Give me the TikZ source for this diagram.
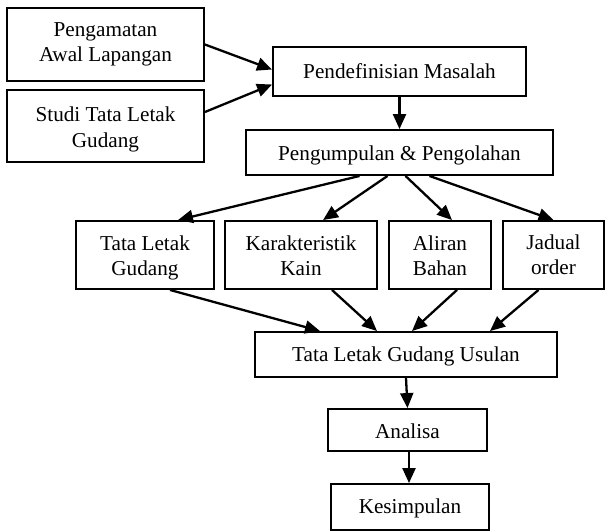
\documentclass[tikz,border=0pt]{standalone}
\usepackage{fontspec}
\setmainfont{Liberation Serif}
\usetikzlibrary{arrows.meta,calc}
\newcommand{\lowone}[2]{\raisebox{-#1}[\height][\depth]{#2}}
\newcommand{\lowtwo}[2]{\raisebox{-#1}[\height][\depth]{\begin{tabular}{@{}c@{}}#2\end{tabular}}}
\tikzset{
  box/.style={draw, line width=1.9pt, rectangle, align=center, inner sep=0pt,
    font=\fontsize{21.2}{25.5}\selectfont},
  arr/.style={line width=2.3pt, -{Triangle[length=15pt,width=13pt]}}
}
\begin{document}
\begin{tikzpicture}[x=1pt,y=-1pt]
\useasboundingbox (0,0) rectangle (605,531);
\node[box, minimum width=197pt, minimum height=73pt] (A) at (105.5,44.5) {Pengamatan\\Awal Lapangan};
\node[box, minimum width=197pt, minimum height=72pt] (B) at (105.5,126) {\lowtwo{3.5pt}{Studi Tata Letak\\Gudang}};
\node[box, minimum width=253pt, minimum height=49pt] (C) at (399.5,71.5) {Pendefinisian Masalah};
\node[box, minimum width=307pt, minimum height=45pt] (K) at (399.5,152.5) {\lowone{3pt}{Pengumpulan \& Pengolahan}};
\node[box, minimum width=138pt, minimum height=68pt] (D) at (145,255) {\lowtwo{3pt}{Tata Letak\\Gudang}};
\node[box, minimum width=152pt, minimum height=68pt] (E) at (301,255) {\lowtwo{3pt}{Karakteristik\\Kain}};
\node[box, minimum width=102pt, minimum height=68pt] (F) at (440,255) {\lowtwo{3pt}{Aliran\\Bahan}};
\node[box, minimum width=101pt, minimum height=68pt] (G) at (553.5,255) {\lowtwo{2pt}{Jadual\\order}};
\node[box, minimum width=302pt, minimum height=45pt] (H) at (406,354.5) {\lowone{2pt}{Tata Letak Gudang Usulan}};
\node[box, minimum width=159pt, minimum height=42pt] (I) at (407.5,430) {\lowone{1.5pt}{Analisa}};
\node[box, minimum width=158pt, minimum height=46pt] (J) at (410,507) {\lowone{1.5pt}{Kesimpulan}};
\draw[arr] (A.east) -- ($(C.west)+(0,-2)$);
\draw[arr] ($(B.east)+(0,-14)$) -- ($(C.west)+(0,13)$);
\draw[arr] (C.south) -- (K.north);
\draw[arr] ($(K.south)+(-40,0)$) -- ($(D.north)+(33,0)$);
\draw[arr] ($(K.south)+(-12,0)$) -- ($(E.north)+(22,0)$);
\draw[arr] ($(K.south)+(6,0)$) -- ($(F.north)+(12,0)$);
\draw[arr] ($(K.south)+(30,0)$) -- (G.north);
\draw[arr] ($(D.south)+(25,0)$) -- ($(H.north)+(-86,0)$);
\draw[arr] ($(E.south)+(31,0)$) -- ($(H.north)+(-29,0)$);
\draw[arr] ($(F.south)+(17,0)$) -- ($(H.north)+(6,0)$);
\draw[arr] ($(G.south)+(-15,0)$) -- ($(H.north)+(84,0)$);
\draw[arr] (H.south) -- (I.north);
\draw[arr] ($(I.south)+(1.5,0)$) -- ($(J.north)+(-1,0)$);
\end{tikzpicture}
\end{document}
